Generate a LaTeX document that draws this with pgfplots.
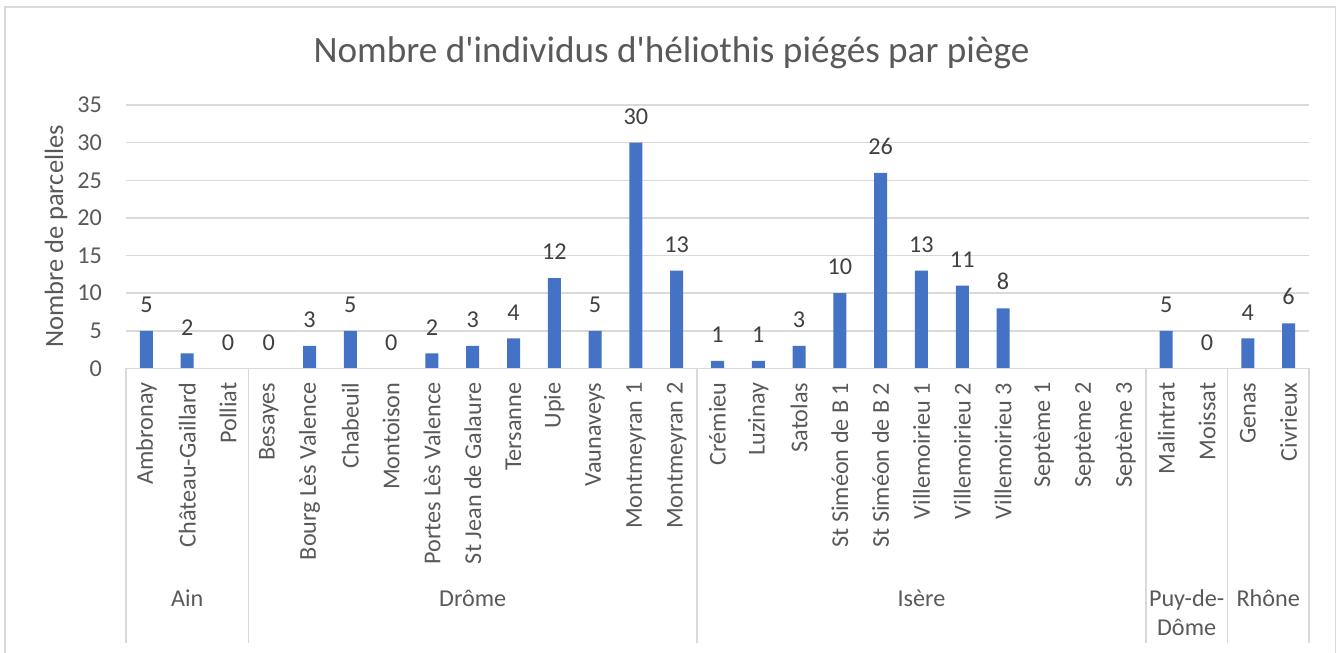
\documentclass[border=0pt]{standalone}
\usepackage{pgfplots}
\pgfplotsset{compat=1.18}
\usepackage{pgfplotstable}
\usepackage{fontspec}
\setmainfont{Carlito}
\definecolor{txt}{HTML}{595959}
\definecolor{lab}{HTML}{404040}
\definecolor{barc}{HTML}{4472C4}
\definecolor{grd}{HTML}{D9D9D9}
\newcommand\tf{\fontsize{24.2}{29}\selectfont}
\pgfplotstableread{
x y
0 5
1 2
2 0
3 0
4 3
5 5
6 0
7 2
8 3
9 4
10 12
11 5
12 30
13 13
14 1
15 1
16 3
17 10
18 26
19 13
20 11
21 8
25 5
26 0
27 4
28 6
}\data
\begin{document}
\begin{tikzpicture}
\useasboundingbox (0,0) rectangle (1344pt,653pt);
\draw[grd, line width=1.3pt] (5pt,-10pt) -- (5pt,646pt) -- (1335.5pt,646pt) -- (1335.5pt,-10pt);
\begin{axis}[
  at={(126pt,284.5pt)}, anchor=south west,
  scale only axis, width=1183pt, height=263.5pt,
  xmin=-0.5, xmax=28.5, ymin=0, ymax=35,
  ytick={0,5,...,35},
  xtick={0,...,28},
  xticklabels={Ambronay, Château-Gaillard, Polliat, Besayes, Bourg Lès Valence, Chabeuil, Montoison, Portes Lès Valence, St Jean de Galaure, Tersanne, Upie, Vaunaveys, Montmeyran 1, Montmeyran 2, Crémieu, Luzinay, Satolas, St Siméon de B 1, St Siméon de B 2, Villemoirieu 1, Villemoirieu 2, Villemoirieu 3, Septème 1, Septème 2, Septème 3, Malintrat, Moissat, Genas, Civrieux},
  axis line style={draw=none},
  major tick length=0pt,
  ymajorgrids, grid style={grd, line width=1.5pt},
  /pgf/number format/assume math mode=true,
  ticklabel style={font=\tf, text=txt, inner sep=0pt},
  xticklabel style={rotate=90, anchor=east},
  xticklabel shift=14pt,
  yticklabel style={anchor=east},
  yticklabel shift=24pt,
  clip=false,
]
\addplot[ybar, bar width=13pt, fill=barc, draw=none,
  nodes near coords,
  every node near coord/.append style={font=\tf, text=lab, inner sep=0pt, anchor=south, yshift=18pt}]
  table[x=x,y=y]{\data};
\draw[grd, line width=1.5pt] (axis cs:-0.5,0) -- (axis cs:28.5,0);
\pgfplotsinvokeforeach{-0.5,2.5,13.5,24.5,26.5,28.5}{
  \draw[grd, line width=1.5pt] (axis cs:#1,0) -- ++(0pt,-274.5pt);
}
\node[anchor=base, font=\tf, text=txt] at ([yshift=-237.5pt]axis cs:1,0) {Ain};
\node[anchor=base, font=\tf, text=txt] at ([yshift=-237.5pt]axis cs:8,0) {Drôme};
\node[anchor=base, font=\tf, text=txt] at ([yshift=-237.5pt]axis cs:19,0) {Isère};
\node[anchor=base, font=\tf, text=txt] at ([yshift=-237.5pt]axis cs:25.5,0) {Puy-de-};
\node[anchor=base, font=\tf, text=txt] at ([yshift=-266.5pt]axis cs:25.5,0) {Dôme};
\node[anchor=base, font=\tf, text=txt] at ([yshift=-237.5pt]axis cs:27.5,0) {Rhône};
\end{axis}
\node[rotate=90, font=\fontsize{26.5}{32}\selectfont, text=txt] at (56pt,416.5pt) {Nombre de parcelles};
\node[anchor=base, font=\fontsize{37.2}{44}\selectfont, text=txt] at (671.5pt,590.3pt) {Nombre d\textquotesingle individus d\textquotesingle héliothis piégés par piège};
\end{tikzpicture}
\end{document}
